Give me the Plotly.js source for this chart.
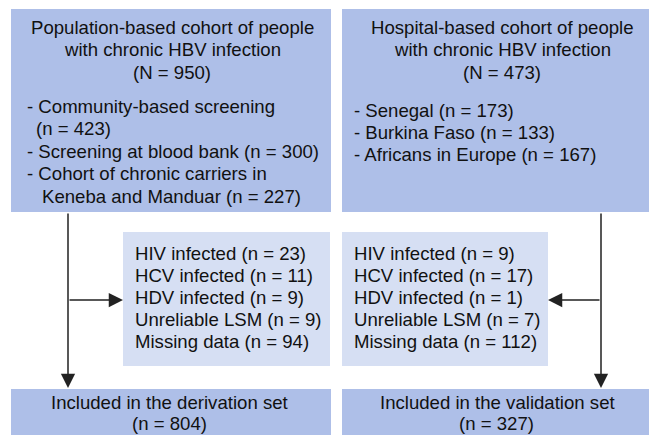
<!DOCTYPE html>
<html>
<head>
<meta charset="utf-8">
<script src="https://cdn.plot.ly/plotly-3.0.1.min.js"></script>
<style>html,body{margin:0;padding:0;background:#fff;}#chart{width:649px;height:435px;}</style>
</head>
<body>
<div id="chart"></div>
<script>
// ---- data ----
const cohortTitles = ["Population-based cohort of people", "Hospital-based cohort of people"];
const cohortSubtitle = "with chronic HBV infection";
const cohortTotals = [950, 473];
const popSources = ["Community-based screening", "Screening at blood bank", "Cohort of chronic carriers in Keneba and Manduar"];
const popCounts = [423, 300, 227];
const hospSources = ["Senegal", "Burkina Faso", "Africans in Europe"];
const hospCounts = [173, 133, 167];
const exclusionReasons = ["HIV infected", "HCV infected", "HDV infected", "Unreliable LSM", "Missing data"];
const exclPopulation = [23, 11, 9, 9, 94];
const exclHospital = [9, 17, 1, 7, 112];
const includedLabels = ["Included in the derivation set", "Included in the validation set"];
const includedCounts = [804, 327];

// ---- layout helpers ----
const DARK = "#aebfe8", LIGHT = "#d6dff3", LINE = "#222222";
const FONT = {family: "Liberation Sans, Arial, sans-serif", size: 18.6, color: "#111"};
const shapes = [], annotations = [];
function box(x0, y0, x1, y1, color) {
  shapes.push({type: "rect", xref: "x", yref: "y", x0, y0, x1, y1, fillcolor: color, line: {width: 0}, layer: "below"});
}
function txt(x, y, text, anchor) {
  annotations.push({xref: "x", yref: "y", x, y, text, showarrow: false, xanchor: anchor || "left", yanchor: "middle", font: FONT});
}
function arrow(tx, ty, fx, fy) {
  annotations.push({xref: "x", yref: "y", axref: "x", ayref: "y", x: tx, y: ty, ax: fx, ay: fy, text: "", showarrow: true,
    arrowhead: 2, arrowsize: 1.9, arrowwidth: 1.5, arrowcolor: LINE, standoff: 0, startstandoff: 0});
}

// top boxes
box(11, 9, 331, 212, DARK);
box(342, 9, 649, 212, DARK);
const centers = [172, 502];
[0, 1].forEach(i => {
  txt(centers[i], 27, cohortTitles[i], "center");
  txt(centers[i], 49, cohortSubtitle, "center");
  txt(centers[i], 72, "(N = " + cohortTotals[i] + ")", "center");
});
// population sources list
txt(25, 106, "- " + popSources[0]);
txt(34, 128, "(n = " + popCounts[0] + ")");
txt(25, 151, "- " + popSources[1] + " (n = " + popCounts[1] + ")");
const p3 = popSources[2].split(" in ");
txt(25, 173, "- " + p3[0] + " in");
txt(40, 196, p3[1] + " (n = " + popCounts[2] + ")");
// hospital sources list
hospSources.forEach((s, k) => txt(352, 110 + k * 22, "- " + s + " (n = " + hospCounts[k] + ")"));

// exclusion boxes
box(123, 232, 330, 366, LIGHT);
box(342, 232, 548, 366, LIGHT);
exclusionReasons.forEach((r, k) => {
  txt(133, 253 + k * 22, r + " (n = " + exclPopulation[k] + ")");
  txt(352, 253 + k * 22, r + " (n = " + exclHospital[k] + ")");
});

// bottom boxes
box(11, 389, 331, 440, DARK);
box(342, 389, 649, 440, DARK);
const bCenters = [170, 497];
[0, 1].forEach(i => {
  txt(bCenters[i], 402, includedLabels[i], "center");
  txt(bCenters[i] - 1, 423, "(n = " + includedCounts[i] + ")", "center");
});

// connectors
arrow(68, 388, 68, 212);
arrow(123, 300, 68, 300);
arrow(601, 388, 601, 212);
arrow(548, 300, 601, 300);

Plotly.newPlot("chart", [], {
  width: 649, height: 435,
  margin: {l: 0, r: 0, t: 0, b: 0},
  paper_bgcolor: "#fff", plot_bgcolor: "#fff",
  xaxis: {range: [0, 649], visible: false, fixedrange: true},
  yaxis: {range: [435, 0], visible: false, fixedrange: true},
  showlegend: false,
  shapes, annotations
}, {displayModeBar: false, staticPlot: true});
</script>
</body>
</html>
